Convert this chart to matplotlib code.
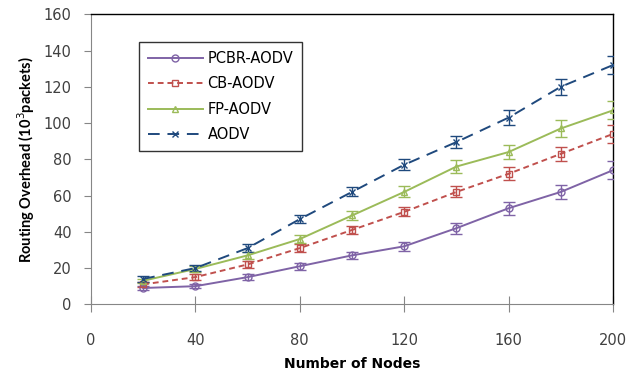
import matplotlib
matplotlib.use("Agg")
import matplotlib.pyplot as plt

plt.rcParams['font.family'] = ['DejaVu Sans']

nodes = [20, 40, 60, 80, 100, 120, 140, 160, 180, 200]
pcbr = [9, 10, 15, 21, 27, 32, 42, 53, 62, 74]
cb = [11, 15, 22, 31, 41, 51, 62, 72, 83, 94]
fp = [13, 19.5, 27, 36, 49, 62, 76, 84, 97, 107]
aodv = [14, 20, 31, 47, 62, 77, 89.5, 103, 120, 132]
pcbr_err = [1.2, 1.2, 1.5, 1.8, 2.0, 2.5, 3.0, 3.5, 4.0, 5.0]
cb_err = [1.2, 1.5, 1.8, 2.0, 2.2, 2.5, 3.0, 3.5, 4.0, 5.0]
fp_err = [1.2, 1.5, 1.8, 2.2, 2.5, 3.0, 3.5, 4.0, 4.5, 5.0]
aodv_err = [1.5, 1.8, 2.0, 2.2, 2.5, 3.0, 3.5, 4.0, 4.5, 5.0]

series = [
    ("PCBR-AODV", pcbr, pcbr_err, "#7f63a6", "-", "o"),
    ("CB-AODV", cb, cb_err, "#c0504d", (0, (3, 2)), "s"),
    ("FP-AODV", fp, fp_err, "#9bbb59", "-", "^"),
    ("AODV", aodv, aodv_err, "#1f497d", (0, (6, 4)), "x"),
]

fig = plt.figure(figsize=(6.39, 3.75), dpi=100)
ax = fig.add_axes([0.1424, 0.1885, 0.8169, 0.7734])

for name, vals, err, col, ls, mk in series:
    ax.errorbar(nodes, vals, yerr=err, color=col, ecolor=col, elinewidth=1.0,
                capsize=4, capthick=1.0, fmt='none', zorder=3)
    ax.plot(nodes, vals, color=col, linestyle=ls, linewidth=1.4, marker=mk,
            markersize=5, markerfacecolor='none', markeredgecolor=col,
            markeredgewidth=1.0, label=name, zorder=4)

ax.set_xlim(0, 200)
ax.set_ylim(0, 160)
ax.set_xticks([0, 40, 80, 120, 160, 200])
ax.set_yticks(range(0, 161, 20))

for s in ['left', 'bottom']:
    ax.spines[s].set_color('#868686')
for s in ['top', 'right']:
    ax.spines[s].set_color('black')
    ax.spines[s].set_linewidth(1.0)

ax.tick_params(axis='x', direction='inout', length=12, color='#868686',
               pad=15, labelsize=10.5, labelcolor='#404040')
ax.tick_params(axis='y', direction='out', length=5, color='#868686',
               pad=9, labelsize=10.5, labelcolor='#404040')

ax.set_xlabel("Number of Nodes", fontsize=10, fontweight='bold', labelpad=6)
ax.set_ylabel("Routing Overhead (10$^3$packets)", fontsize=10.5, fontweight='bold',
              labelpad=5, family='Lato')

leg = ax.legend(loc='upper left', bbox_to_anchor=(0.092, 0.904), fontsize=10.5,
                frameon=True, fancybox=False, edgecolor='black', handlelength=3.8,
                labelspacing=0.72, borderpad=0.6, handletextpad=0.3,
                borderaxespad=0)
leg.get_frame().set_linewidth(1.0)

fig.savefig("out.png", dpi=100)
